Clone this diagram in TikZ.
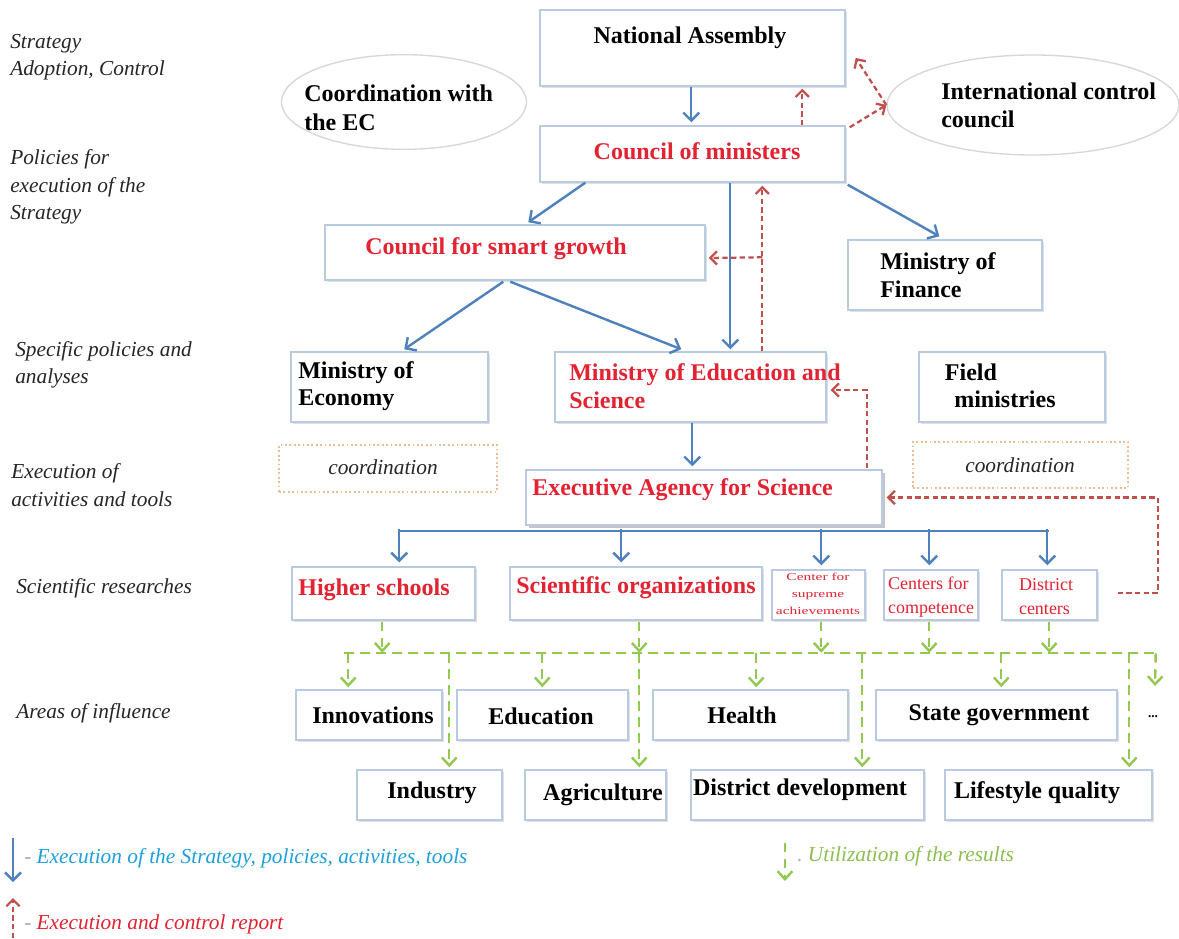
\documentclass[tikz,border=0pt]{standalone}
\usepackage{fontspec}
\setmainfont{Liberation Serif}
\usepackage{graphicx}
\usetikzlibrary{arrows.meta,calc,fit,shapes.geometric,shadows}
\definecolor{boxline}{RGB}{185,203,225}
\definecolor{arrblue}{RGB}{79,129,189}
\definecolor{arrred}{RGB}{192,80,77}
\definecolor{arrgreen}{RGB}{146,200,80}
\definecolor{txtred}{RGB}{225,35,50}
\definecolor{ellline}{RGB}{215,215,215}
\definecolor{dotline}{RGB}{235,190,150}
\definecolor{legblue}{RGB}{30,160,220}
\definecolor{leggreen}{RGB}{140,190,80}
\begin{document}
\begin{tikzpicture}[x=0.75pt,y=-0.75pt,
  box/.style={draw=boxline, line width=1.1pt, fill=white, inner sep=0pt,
    drop shadow={shadow xshift=1.2pt, shadow yshift=-1.2pt, opacity=0.25}},
  bigshadowbox/.style={draw=boxline, line width=1.1pt, fill=white, inner sep=0pt,
    drop shadow={shadow xshift=2.4pt, shadow yshift=-2.4pt, opacity=0.45}},
  dotbox/.style={draw=dotline, line width=1.3pt, dotted, inner sep=0pt},
  ell/.style={ellipse, draw=ellline, line width=1pt, inner sep=0pt},
  bt/.style={font=\fontsize{18}{20.5}\selectfont\bfseries, inner sep=0pt, align=left},
  rt/.style={bt, text=txtred},
  smr/.style={font=\fontsize{13.5}{18}\selectfont, text=txtred, inner sep=0pt, align=left},
  lab/.style={font=\fontsize{16}{20.5}\selectfont\itshape, inner sep=0pt, align=left, anchor=west, text=black!85},
  crd/.style={font=\fontsize{16}{20}\selectfont\itshape, inner sep=0pt, text=black!85},
  blu/.style={draw=arrblue, line width=1.8pt, -{Straight Barb[length=6pt,width=12pt]}},
  bl/.style={draw=arrblue, line width=1.8pt},
  rd/.style={draw=arrred, line width=1.7pt, dash pattern=on 4pt off 2.5pt, -{Straight Barb[length=5pt,width=10pt]}},
  gr/.style={draw=arrgreen, line width=1.8pt, dash pattern=on 7pt off 5pt, -{Straight Barb[length=6pt,width=11pt]}},
  grl/.style={draw=arrgreen, line width=1.8pt, dash pattern=on 7pt off 5pt}
]
\useasboundingbox (0,0) rectangle (1179,939);
\fill[white] (0,0) rectangle (1179,939);

% ---------- left labels ----------
\node[lab] (l1) at (10,57) {Strategy\\Adoption, Control};
\node[lab] (l2) at (10,187) {Policies for\\execution of the\\Strategy};
\node[lab] (l3) at (15,365) {Specific policies and\\analyses};
\node[lab] (l4) at (11,485) {Execution of\\activities and tools};
\node[lab] (l5) at (16,588) {Scientific researches};
\node[lab] (l6) at (16,713) {Areas of influence};

% ---------- boxes ----------
\node[box, fit={(540,10) (845,86)}] (na) {};
\node[bt] (tna) at (690,38) {National Assembly};
\node[box, fit={(540,126) (845,182)}] (cm) {};
\node[rt] (tcm) at (697,151) {Council of ministers};

\node[ell, minimum width=183.75pt, minimum height=71pt] (ec) at (404,102) {};
\node[bt, anchor=west, font=\fontsize{18}{22}\selectfont\bfseries] (tec) at (304,108) {Coordination with\\the EC};
\node[ell, minimum width=219pt, minimum height=75pt] (icc) at (1033,105) {};
\node[bt, anchor=west, font=\fontsize{18}{21}\selectfont\bfseries] (ticc) at (941,105) {International control\\council};

\node[box, fit={(325,225) (705,280)}] (csg) {};
\node[rt, anchor=west] (tcsg) at (365,249) {Council for smart growth};
\node[box, fit={(848,240) (1042,310)}] (mf) {};
\node[bt, anchor=west] (tmf) at (880,275) {Ministry of\\Finance};

\node[box, fit={(291,352) (488,422)}] (me) {};
\node[bt, anchor=west] (tme) at (298,386) {Ministry of\\Economy};
\node[box, fit={(555,352) (826,422)}] (mes) {};
\node[rt, anchor=west] (tmes) at (569,386) {Ministry of Education and\\Science};
\node[box, fit={(919,352) (1105,422)}] (fm) {};
\node[bt, anchor=west] (tfm) at (954,386) {\hspace*{-7pt}Field\\ministries};

\node[dotbox, fit={(279,445) (497,492)}] (co1) {};
\node[crd] (tco1) at (383,467) {coordination};
\node[dotbox, fit={(913,442) (1128,488)}] (co2) {};
\node[crd] (tco2) at (1020,465) {coordination};

\node[bigshadowbox, fit={(526,470) (882,525)}] (eas) {};
\node[rt, anchor=west] (teas) at (532,490) {Executive Agency for Science};

\node[box, fit={(292,567) (475,620)}] (hs) {};
\node[rt] (ths) at (374,590) {Higher schools};
\node[box, fit={(510,567) (762,620)}] (so) {};
\node[rt] (tso) at (636,588) {Scientific organizations};
\node[box, fit={(772,570) (865,620)}] (csa) {};
\node[inner sep=0pt, text=txtred] (tcsa) at (818,594) {\scalebox{1.45}[1]{\fontsize{8}{12.5}\selectfont\begin{tabular}{@{}c@{}}Center for\\supreme\\achievements\end{tabular}}};
\node[box, fit={(884,570) (978,620)}] (cc) {};
\node[smr] (tcc) at (931,597) {Centers for\\competence};
\node[box, fit={(1002,570) (1097,620)}] (dc) {};
\node[smr] (tdc) at (1046,597) {District\\centers};

\node[box, fit={(296,690) (442,740)}] (inn) {};
\node[bt] (tinn) at (373,715) {Innovations};
\node[box, fit={(457,690) (628,740)}] (edu) {};
\node[bt] (tedu) at (541,716) {Education};
\node[box, fit={(653,690) (848,740)}] (hea) {};
\node[bt] (thea) at (742,715) {Health};
\node[box, fit={(876,690) (1117,740)}] (sg) {};
\node[bt] (tsg) at (999,715) {State government};
\node[inner sep=0pt, font=\fontsize{10}{12}\selectfont\bfseries] (tdots) at (1153,717) {...};

\node[box, fit={(357,770) (502,820)}] (ind) {};
\node[bt] (tind) at (432,793) {Industry};
\node[box, fit={(525,770) (666,820)}] (agr) {};
\node[bt] (tagr) at (603,795) {Agriculture};
\node[box, fit={(691,770) (924,820)}] (dd) {};
\node[bt] (tdd) at (800,790) {District development};
\node[box, fit={(945,770) (1152,820)}] (lq) {};
\node[bt] (tlq) at (1037,793) {Lifestyle quality};

% ---------- blue arrows ----------
\draw[blu] ($(na.south west)+(152,0)$) -- ($(cm.north west)+(152,-3)$);
\draw[blu] ($(cm.south west)+(46,0)$) -- ($(csg.north west)+(204,-2)$);
\draw[blu] ($(cm.south west)+(191,0)$) -- ($(mes.north west)+(176,-2)$);
\draw[blu] ($(cm.south east)+(2,2)$) -- ($(mf.north west)+(92,-3)$);
\draw[blu] ($(csg.south west)+(179,1)$) -- ($(me.north west)+(114,-2)$);
\draw[blu] ($(csg.south west)+(186,1)$) -- ($(mes.north west)+(127,-2)$);
\draw[blu] ($(mes.south west)+(138,0)$) -- ($(eas.north west)+(167,-3)$);
\draw[bl] ($(eas.south west)+(-126,5)$) -- ($(eas.south east)+(166,5)$);
\draw[blu] ($(hs.north west)+(108,-37)$) -- ($(hs.north west)+(108,-4)$);
\draw[blu] ($(so.north west)+(112,-37)$) -- ($(so.north west)+(112,-4)$);
\draw[blu] ($(csa.north west)+(50,-40)$) -- ($(csa.north west)+(50,-4)$);
\draw[blu] ($(cc.north west)+(46,-40)$) -- ($(cc.north west)+(46,-4)$);
\draw[blu] ($(dc.north west)+(46,-40)$) -- ($(dc.north west)+(46,-4)$);

% ---------- red dashed report arrows ----------
\draw[rd] ($(cm.north west)+(263,0)$) -- ($(na.south west)+(263,2)$);
\draw[rd] ($(cm.north east)+(4,2)$) -- (icc.west);
\draw[rd] (icc.west) -- ($(na.east)+(10,10)$);
\draw[rd] ($(mes.north west)+(208,0)$) -- ($(cm.south west)+(223,3)$);
\draw[rd] ($(mes.north west)+(208,-94)$) -- ($(csg.east)+(3,5.5)$);
\draw[rd] ($(eas.north east)+(-16,-1)$) |- ($(mes.east)+(4,3)$);
\draw[rd] ($(dc.east)+(20,-2)$) -- ($(dc.east)+(60,-2)$) |- ($(eas.east)+(4,0)$);

% ---------- green dashed utilisation arrows ----------
\draw[gr] ($(hs.south west)+(91,1)$) -- ($(hs.south west)+(91,32)$);
\draw[gr] ($(so.south west)+(130,1)$) -- ($(so.south west)+(130,32)$);
\draw[gr] ($(csa.south west)+(50,1)$) -- ($(csa.south west)+(50,32)$);
\draw[gr] ($(cc.south west)+(46,1)$) -- ($(cc.south west)+(46,32)$);
\draw[gr] ($(dc.south west)+(48,1)$) -- ($(dc.south west)+(48,32)$);
\draw[grl] ($(inn.north west)+(49,-36)$) -- ($(lq.north east)+(5,-116)$);
\draw[gr] ($(inn.north west)+(53,-36)$) -- ($(inn.north west)+(53,-2)$);
\draw[gr] ($(ind.north west)+(93,-116)$) -- ($(ind.north west)+(93,-2)$);
\draw[gr] ($(edu.north west)+(86,-36)$) -- ($(edu.north west)+(86,-2)$);
\draw[gr] ($(agr.north west)+(115,-116)$) -- ($(agr.north west)+(115,-2)$);
\draw[gr] ($(hea.north west)+(104,-36)$) -- ($(hea.north west)+(104,-2)$);
\draw[gr] ($(dd.north west)+(172,-116)$) -- ($(dd.north west)+(172,-2)$);
\draw[gr] ($(sg.north west)+(126,-36)$) -- ($(sg.north west)+(126,-2)$);
\draw[gr] ($(lq.north west)+(185,-116)$) -- ($(lq.north west)+(185,-2)$);
\coordinate (dotsTop) at (1155,686);
\draw[gr] ($(lq.north east)+(3,-116)$) -- (dotsTop);

% ---------- legend ----------
\coordinate (lb1) at (13,838);
\coordinate (lb2) at (13,882);
\draw[blu] (lb1) -- (lb2);
\node[anchor=west, inner sep=0pt, font=\fontsize{16}{20}\selectfont\itshape, text=legblue] (leg1) at (24,858) {{\color{gray!70}-} Execution of the Strategy, policies, activities, tools};
\coordinate (lr1) at (13,938);
\coordinate (lr2) at (13,898);
\draw[rd] (lr1) -- (lr2);
\node[anchor=west, inner sep=0pt, font=\fontsize{16}{20}\selectfont\itshape, text=txtred] (leg2) at (24,924) {{\color{gray!70}-} Execution and control report};
\coordinate (lg1) at (785,843);
\coordinate (lg2) at (785,881);
\draw[gr] (lg1) -- (lg2);
\node[anchor=west, inner sep=0pt, font=\fontsize{16}{20}\selectfont\itshape, text=leggreen] (leg3) at (797,856) {{\color{gray!60}.}\ Utilization of the results};
\end{tikzpicture}
\end{document}
